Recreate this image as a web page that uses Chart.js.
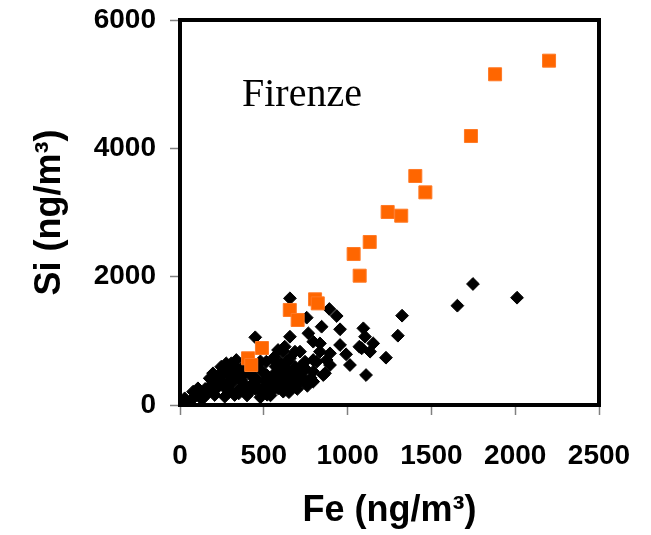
<!DOCTYPE html>
<html>
<head>
<meta charset="utf-8">
<title>Si vs Fe - Firenze</title>
<script src="https://cdn.jsdelivr.net/npm/chart.js@4.4.1/dist/chart.umd.min.js"></script>
<style>
  html, body { margin: 0; padding: 0; background: #fff; }
  #wrap { width: 651px; height: 535px; }
</style>
</head>
<body>
<div id="wrap"><canvas id="siFeChart" width="651" height="535"></canvas></div>
<script>
// Sample data (ng/m3)
const orangeFe = [2202, 1880, 1736, 1404, 1464, 1239, 1320, 1132, 1036, 1072, 806, 822, 655, 702, 489, 406, 425];
const orangeSi = [5366, 5154, 4192, 3569, 3314, 3008, 2950, 2540, 2353, 2015, 1647, 1584, 1481, 1325, 888, 728, 623];

const blackFe = [
  1325, 1300, 1655, 1748, 2011,
  656, 891, 935, 756, 955, 656, 766, 845, 1094, 1104, 1153, 1070, 1134, 955, 991,
  1229, 1014, 1110, 895, 835, 795, 716, 656, 795, 716, 855, 637, 637, 875, 816,
  607, 746, 686, 1084, 449,
  28, 78, 107, 177, 197, 246, 276, 306, 336, 237, 286, 147, 207, 267, 326, 356,
  386, 416, 465, 505, 545, 585, 535, 565, 604, 515, 485, 446, 386, 326, 366, 436,
  565, 625, 585, 505, 595, 495, 88, 227, 306,
  616, 676, 735, 795, 686, 616, 895, 835, 795, 865,
  60, 120, 150, 180, 200, 230, 250, 270, 290, 310, 330, 350, 370, 400, 420, 440,
  460, 480, 520, 550, 570, 600, 630, 660, 690, 720, 750, 780,
  300, 350, 400, 450, 520, 560, 620, 660, 700, 45, 130, 170, 215, 260,
  560, 590, 640, 680, 720, 760, 600, 650, 700, 540, 480, 420, 380, 340
];
const blackSi = [
  1392, 1080, 1548, 1886, 1672,
  1663, 1496, 1387, 1361, 1180, 1064, 1117, 1220, 1195, 1064, 960, 909, 831, 935, 790,
  737, 623, 467, 623, 831, 987, 831, 728, 519, 519, 467, 312, 467, 701, 675,
  571, 675, 597, 883, 1055,
  104, 208, 260, 416, 494, 597, 649, 649, 701, 390, 338, 130, 156, 130, 156, 260,
  312, 208, 260, 286, 208, 260, 390, 494, 649, 675, 545, 441, 494, 494, 390, 338,
  753, 909, 857, 390, 390, 182, 130, 286, 441,
  208, 364, 416, 364, 831, 831, 805, 960, 701, 494,
  60, 170, 250, 300, 360, 430, 520, 260, 560, 350, 600, 420, 560, 220, 470, 600,
  380, 680, 460, 330, 600, 480, 560, 420, 470, 600, 560, 420,
  220, 180, 150, 250, 160, 300, 260, 300, 350, 40, 90, 200, 250, 470,
  700, 540, 680, 500, 380, 300, 350, 200, 250, 150, 120, 300, 600, 480
];

const xTicks = [0, 500, 1000, 1500, 2000, 2500];
const yTicks = [0, 2000, 4000, 6000];

const toPoints = (xs, ys) => xs.map((x, i) => ({ x: x, y: ys[i] }));

const tickFont = { family: "Arial, 'Liberation Sans', sans-serif", size: 28, weight: 'bold' };
const titleFont = { family: "Arial, 'Liberation Sans', sans-serif", size: 36, weight: 'bold' };

// Box frame round the plot area plus the site label
const framePlugin = {
  id: 'frame',
  afterDraw(chart) {
    const { ctx, chartArea: a } = chart;
    ctx.save();
    ctx.strokeStyle = '#000';
    ctx.lineWidth = 4;
    ctx.strokeRect(a.left, a.top, a.right - a.left, a.bottom - a.top);
    ctx.fillStyle = '#000';
    ctx.font = "40px 'Times New Roman', 'Liberation Serif', serif";
    ctx.textBaseline = 'alphabetic';
    ctx.fillText('Firenze', a.left + 62, a.top + 86);
    ctx.restore();
  }
};

const ctx = document.getElementById('siFeChart').getContext('2d');
const siFeChart = new Chart(ctx, {
  type: 'scatter',
  data: {
    datasets: [
      {
        label: 'Firenze (orange)',
        data: toPoints(orangeFe, orangeSi),
        pointStyle: 'rect',
        pointRadius: 9.2,
        backgroundColor: '#ff6600',
        borderColor: '#ff7a26',
        borderWidth: 1
      },
      {
        label: 'Firenze',
        data: toPoints(blackFe, blackSi),
        pointStyle: 'rectRot',
        pointRadius: 6.4,
        backgroundColor: '#000',
        borderColor: '#000',
        borderWidth: 1
      }
    ]
  },
  options: {
    responsive: false,
    devicePixelRatio: 1,
    animation: false,
    layout: { padding: { top: 20, right: 52, left: 0, bottom: 0 } },
    plugins: { legend: { display: false }, tooltip: { enabled: false } },
    scales: {
      x: {
        type: 'linear',
        min: 0,
        max: 2500,
        afterBuildTicks: s => { s.ticks = xTicks.map(v => ({ value: v })); },
        afterFit: s => { s.height = 130; s.paddingLeft = 0; s.paddingRight = 0; },
        ticks: { font: tickFont, color: '#000', padding: 24, maxRotation: 0, callback: v => String(v) },
        grid: { drawOnChartArea: false, drawTicks: true, tickLength: 10, tickColor: '#808080', tickWidth: 1.5 },
        border: { display: false },
        title: { display: true, text: 'Fe (ng/m³)', font: titleFont, color: '#000', padding: { top: 0, bottom: 2 } }
      },
      y: {
        type: 'linear',
        min: 0,
        max: 6000,
        afterBuildTicks: s => { s.ticks = yTicks.map(v => ({ value: v })); },
        afterFit: s => { s.width = 180; s.paddingTop = 0; s.paddingBottom = 0; },
        ticks: { font: tickFont, color: '#000', padding: 14, callback: v => String(v) },
        grid: { drawOnChartArea: false, drawTicks: true, tickLength: 10, tickColor: '#808080', tickWidth: 1.5 },
        border: { display: false },
        title: { display: true, text: 'Si (ng/m³)', font: titleFont, color: '#000', padding: { top: 28, bottom: 0 } }
      }
    }
  },
  plugins: [framePlugin]
});
</script>
</body>
</html>
